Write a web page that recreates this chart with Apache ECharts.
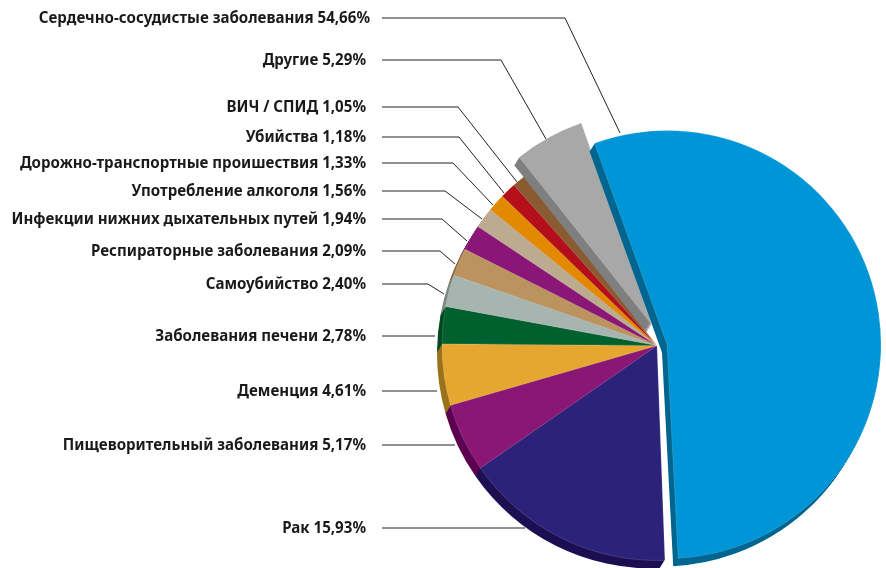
<!DOCTYPE html>
<html><head><meta charset="utf-8">
<style>html,body{margin:0;padding:0;background:#fff}#c{width:886px;height:568px}</style>
<script src="https://cdn.jsdelivr.net/npm/echarts@6/dist/echarts.min.js"></script>
</head><body><div id="c"></div>
<script>
const categories = ['Сердечно-сосудистые заболевания','Рак','Пищеворительный заболевания','Деменция','Заболевания печени','Самоубийство','Респираторные заболевания','Инфекции нижних дыхательных путей','Употребление алкоголя','Дорожно-транспортные проишествия','Убийства','ВИЧ / СПИД','Другие'];
const values = [54.66,15.93,5.17,4.61,2.78,2.40,2.09,1.94,1.56,1.33,1.18,1.05,5.29];
const topColors = ['#0095d6','#2c227a','#8a1775','#e6a730','#00602e','#a6b5af','#bc935e','#8a1678','#bdab8f','#e38900','#b50f1c','#8a5a30','#a8a8a8'];
const sideColors = ['#006690','#1c0f52','#5c0050','#99731b','#004a22','#808a85','#8a6a3f','#5c0050','#8a7c66','#a86400','#800a12','#603e20','#7f7f7f'];
// leader lines: [label y, elbow x, end x, end y]
const leaders = [[18,565,620,133],[528,382,525,528],[445,382,455,445],[391,382,437,391],[336,382,435,336],[284,428,444,294],[251,440,455,264],[219,442,467,241],[191,445,482,219],[163,453,493,205],[137,459,504,193],[107,458,517,182],[60,501,546,139]];
const labelRight = [370,366,366,366,366,366,366,366,366,366,366,366,366];
const groups = [
  {center:[657,345.5], radius:215, start:108.9, items:[1,2,3,4,5,6,7,8,9,10,11]},
  {center:[652,325], radius:214, start:109.3, items:[12]},
  {center:[667,344.5], radius:214, start:109.8, items:[0]}
];
const depth = [-5,8], steps = 8;
const fmt = v => v.toFixed(2).replace('.',',') + '%';
const series = [];
groups.forEach(g => {
  for (let s = steps; s >= 1; s--) {
    series.push({
      type:'pie', silent:true, animation:false, clockwise:true, startAngle:g.start,
      radius:[0,g.radius], center:[g.center[0]+depth[0]*s/steps, g.center[1]+depth[1]*s/steps],
      label:{show:false}, labelLine:{show:false},
      data: categories.map((n,i)=>({name:n,value:values[i],itemStyle:{color:g.items.includes(i)?sideColors[i]:'rgba(0,0,0,0)'}}))
    });
  }
  series.push({
    type:'pie', silent:true, animation:false, clockwise:true, startAngle:g.start,
    radius:[0,g.radius], center:g.center, avoidLabelOverlap:false,
    labelLine:{show:true, lineStyle:{color:'#222',width:1}},
    label:{show:true},
    labelLayout:(p)=>{
      const l = leaders[p.dataIndex];
      return {x:labelRight[p.dataIndex], y:l[0]+1, align:'right', verticalAlign:'middle', moveOverlap:false,
        labelLinePoints:[[382,l[0]],[l[1],l[0]],[l[2],l[3]]]};
    },
    data: categories.map((n,i)=>{
      const on = g.items.includes(i);
      return {name:n,value:values[i],
        itemStyle: on?{color:topColors[i],borderColor:'rgba(255,255,255,0.25)',borderWidth:0.6}:{color:'rgba(0,0,0,0)',borderWidth:0},
        label: on?{show:true,formatter:n+' '+fmt(values[i]),fontFamily:'Noto Sans',fontWeight:'bold',fontSize:15.1,color:'#1a1a1a'}:{show:false},
        labelLine:{show:on}};
    })
  });
});
const chart = echarts.init(document.getElementById('c'),null,{renderer:'canvas'});
chart.setOption({backgroundColor:'#fff',animation:false,series});
</script></body></html>
